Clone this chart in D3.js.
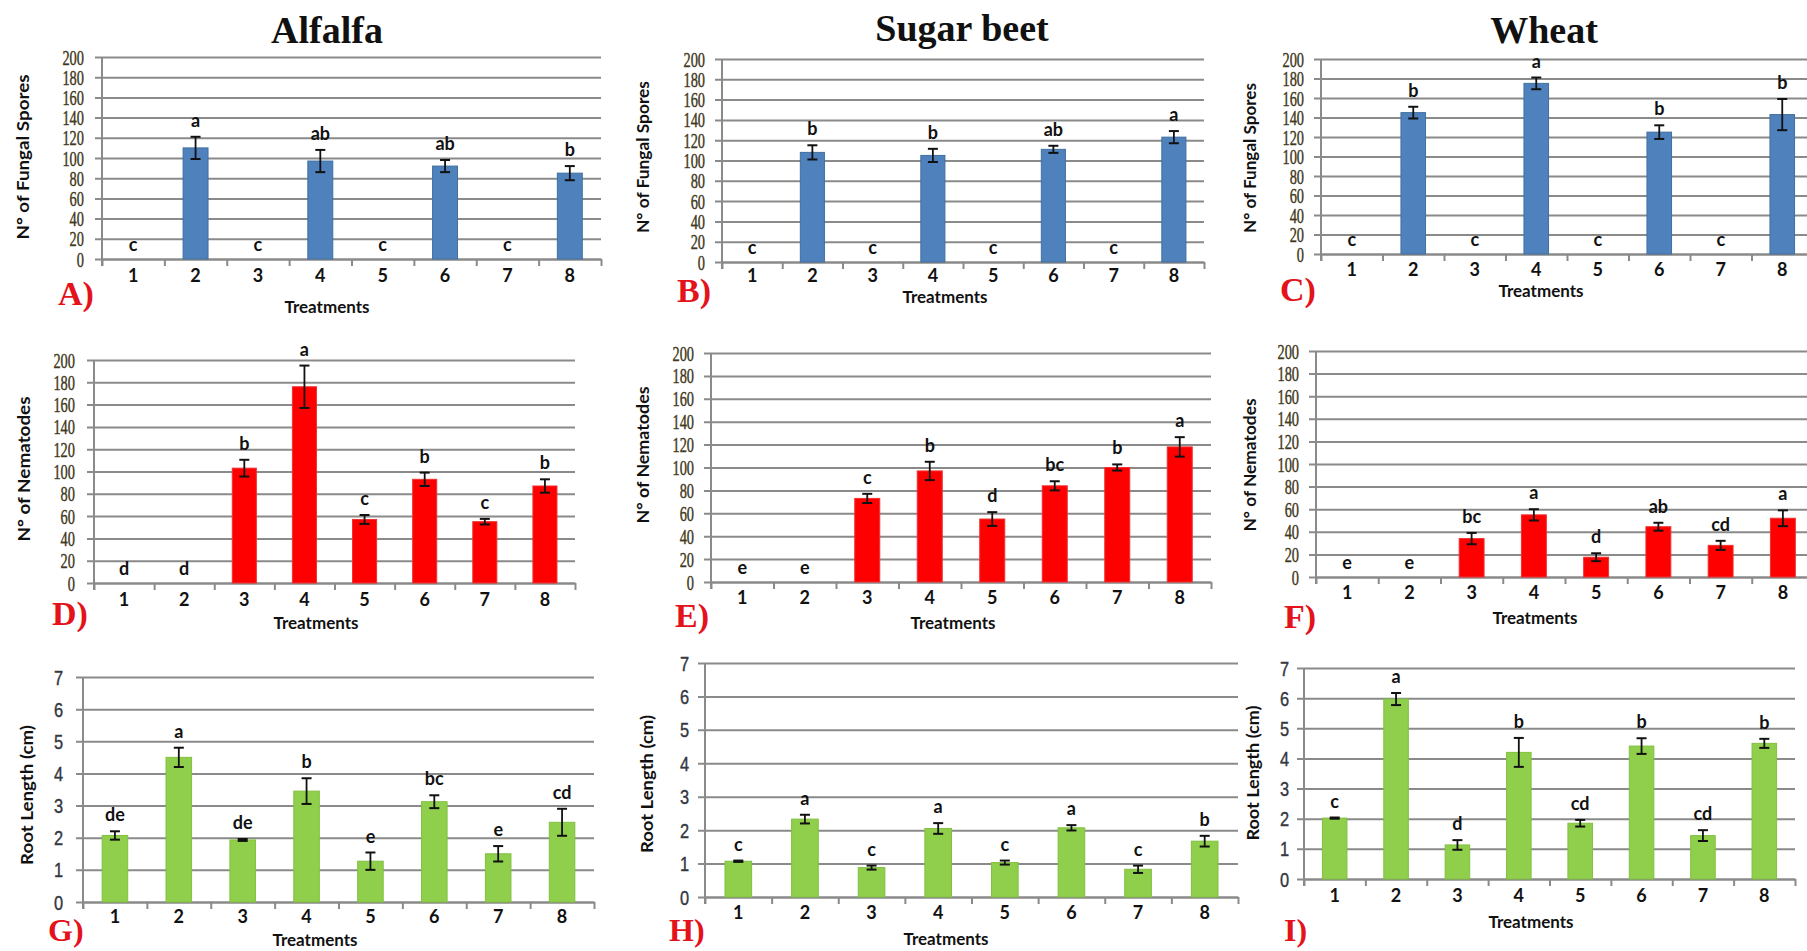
<!DOCTYPE html>
<html>
<head>
<meta charset="utf-8">
<script src="https://cdn.jsdelivr.net/npm/d3@7"></script>
<style>
  html, body { margin: 0; padding: 0; background: #fff; }
  svg { display: block; }
</style>
</head>
<body>
<svg id="chart" width="1807" height="951"></svg>
<script>
// ---------------- DATA ----------------
const treatments = ["1", "2", "3", "4", "5", "6", "7", "8"];
const crops = ["Alfalfa", "Sugar beet", "Wheat"];
const countTicks = [0, 20, 40, 60, 80, 100, 120, 140, 160, 180, 200];
const rootTicks = [0, 1, 2, 3, 4, 5, 6, 7];

const sporesAlfalfa = [0, 110, 0, 97, 0, 92, 0, 85];
const sporesAlfalfaErr = [0, 11, 0, 11, 0, 6, 0, 7];
const sporesAlfalfaLetters = ["c", "a", "c", "ab", "c", "ab", "c", "b"];

const sporesSugarbeet = [0, 108, 0, 105, 0, 111, 0, 123];
const sporesSugarbeetErr = [0, 7, 0, 6.5, 0, 3.5, 0, 6];
const sporesSugarbeetLetters = ["c", "b", "c", "b", "c", "ab", "c", "a"];

const sporesWheat = [0, 145, 0, 175, 0, 125, 0, 143];
const sporesWheatErr = [0, 6, 0, 6, 0, 7, 0, 16];
const sporesWheatLetters = ["c", "b", "c", "a", "c", "b", "c", "b"];

const nemAlfalfa = [0, 0, 103, 176, 57, 93, 55, 87];
const nemAlfalfaErr = [0, 0, 7.5, 19, 4, 6, 2.5, 6];
const nemAlfalfaLetters = ["d", "d", "b", "a", "c", "b", "c", "b"];

const nemSugarbeet = [0, 0, 73, 97, 55, 84, 100, 118];
const nemSugarbeetErr = [0, 0, 4, 8, 6, 4, 2.7, 8.5];
const nemSugarbeetLetters = ["e", "e", "c", "b", "d", "bc", "b", "a"];

const nemWheat = [0, 0, 34, 55, 17.5, 44.5, 28, 52];
const nemWheatErr = [0, 0, 5, 5, 3.5, 3.5, 4, 7];
const nemWheatLetters = ["e", "e", "bc", "a", "d", "ab", "cd", "a"];

const rootAlfalfa = [2.07, 4.5, 1.93, 3.45, 1.27, 3.12, 1.5, 2.48];
const rootAlfalfaErr = [0.13, 0.3, 0.03, 0.4, 0.27, 0.2, 0.24, 0.42];
const rootAlfalfaLetters = ["de", "a", "de", "b", "e", "bc", "e", "cd"];

const rootSugarbeet = [1.07, 2.33, 0.88, 2.05, 1.03, 2.07, 0.83, 1.67];
const rootSugarbeetErr = [0.02, 0.13, 0.06, 0.16, 0.06, 0.08, 0.11, 0.16];
const rootSugarbeetLetters = ["c", "a", "c", "a", "c", "a", "c", "b"];

const rootWheat = [2.02, 5.97, 1.13, 4.2, 1.85, 4.41, 1.44, 4.5];
const rootWheatErr = [0.02, 0.2, 0.16, 0.48, 0.11, 0.26, 0.18, 0.15];
const rootWheatLetters = ["c", "a", "d", "b", "cd", "b", "cd", "b"];

const panelLabels = ["A)", "B)", "C)", "D)", "E)", "F)", "G)", "H)", "I)"];
const yTitles = ["N° of Fungal Spores", "N° of Nematodes", "Root Length (cm)"];
const xTitle = "Treatments";

// ---------------- LAYOUT / STYLE ----------------
const COLORS = ["#4f81bd", "#ff0000", "#8fcf4c"];
const STROKES = ["#40709f", "#f03030", "#82c040"];

const panels = [
  { v: sporesAlfalfa, e: sporesAlfalfaErr, l: sporesAlfalfaLetters, row: 0,
    L: 102, R: 601, T: 57, B: 259, tickR: 84, xlab: 282, trX: 327, trY: 313, ytX: 22, ytY: 157, ytLen: 165, pX: 58, pY: 305 },
  { v: sporesSugarbeet, e: sporesSugarbeetErr, l: sporesSugarbeetLetters, row: 0,
    L: 722, R: 1204, T: 59, B: 262, tickR: 705, xlab: 282, trX: 945, trY: 303, ytX: 642, ytY: 157, ytLen: 152, pX: 677, pY: 302 },
  { v: sporesWheat, e: sporesWheatErr, l: sporesWheatLetters, row: 0,
    L: 1321, R: 1813, T: 59, B: 254, tickR: 1304, xlab: 276, trX: 1541, trY: 297, ytX: 1249, ytY: 158, ytLen: 150, pX: 1280, pY: 301 },
  { v: nemAlfalfa, e: nemAlfalfaErr, l: nemAlfalfaLetters, row: 1,
    L: 94, R: 575, T: 360, B: 583, tickR: 75, xlab: 606, trX: 316, trY: 629, ytX: 23, ytY: 469, ytLen: 145, pX: 52, pY: 625 },
  { v: nemSugarbeet, e: nemSugarbeetErr, l: nemSugarbeetLetters, row: 1,
    L: 711, R: 1211, T: 353, B: 582, tickR: 694, xlab: 604, trX: 953, trY: 629, ytX: 642, ytY: 455, ytLen: 137, pX: 675, pY: 627 },
  { v: nemWheat, e: nemWheatErr, l: nemWheatLetters, row: 1,
    L: 1316, R: 1814, T: 351, B: 577, tickR: 1299, xlab: 599, trX: 1535, trY: 624, ytX: 1249, ytY: 465, ytLen: 133, pX: 1284, pY: 628 },
  { v: rootAlfalfa, e: rootAlfalfaErr, l: rootAlfalfaLetters, row: 2,
    L: 83, R: 594, T: 677, B: 902, tickR: 63, xlab: 923, trX: 315, trY: 946, ytX: 26, ytY: 795, ytLen: 140, pX: 48, pY: 941 },
  { v: rootSugarbeet, e: rootSugarbeetErr, l: rootSugarbeetLetters, row: 2,
    L: 705, R: 1238, T: 663, B: 897, tickR: 689, xlab: 919, trX: 946, trY: 945, ytX: 646, ytY: 784, ytLen: 138, pX: 669, pY: 941 },
  { v: rootWheat, e: rootWheatErr, l: rootWheatLetters, row: 2,
    L: 1304, R: 1795, T: 668, B: 879, tickR: 1289, xlab: 902, trX: 1531, trY: 928, ytX: 1252, ytY: 773, ytLen: 135, pX: 1284, pY: 941 }
];
const titlePos = [{ x: 327, y: 43 }, { x: 962, y: 41 }, { x: 1544, y: 43 }];

const svg = d3.select("#chart");
const GRID = "#8a8a8a";

// Crop titles
svg.selectAll("text.crop").data(crops).join("text")
  .attr("class", "crop")
  .attr("x", (d, i) => titlePos[i].x)
  .attr("y", (d, i) => titlePos[i].y)
  .attr("text-anchor", "middle")
  .attr("font-family", "'Liberation Serif', 'Times New Roman', serif")
  .attr("font-weight", "bold")
  .attr("font-size", 38)
  .attr("fill", "#111")
  .text(d => d);

panels.forEach((p, pi) => {
  const isRoot = p.row === 2;
  const ticks = isRoot ? rootTicks : countTicks;
  const yMax = isRoot ? 7 : 200;

  const x = d3.scaleBand().domain(treatments).range([p.L, p.R]).paddingInner(0).paddingOuter(0);
  const xEdge = d3.scaleLinear().domain([0, treatments.length]).range([p.L, p.R]);
  const y = d3.scaleLinear().domain([0, yMax]).range([p.B, p.T]);
  const g = svg.append("g");

  // Y grid + labels
  const sx = isRoot ? 0.82 : 0.72;
  const yAxis = g.append("g")
    .attr("transform", `translate(${p.L},0)`)
    .call(d3.axisLeft(y).tickValues(ticks).tickSize(-(p.R - p.L)).tickSizeOuter(0).tickFormat(d3.format("d")));
  yAxis.select(".domain").remove();
  yAxis.selectAll(".tick line")
    .attr("x1", -7)
    .attr("stroke", GRID).attr("stroke-width", 2);
  const tickColor = isRoot ? "#33373f" : "#3f3820";
  yAxis.selectAll(".tick text")
    .attr("x", (p.tickR - p.L) / sx)
    .attr("dy", "0.35em")
    .attr("transform", `scale(${sx},1)`)
    .attr("text-anchor", "end")
    .attr("font-family", isRoot ? "'Liberation Sans', Arial, sans-serif" : "'Liberation Serif', 'Times New Roman', serif")
    .attr("font-size", 20)
    .attr("fill", tickColor)
    .attr("stroke", tickColor)
    .attr("stroke-width", 0.4);

  // Y axis line
  g.append("line")
    .attr("x1", p.L).attr("x2", p.L)
    .attr("y1", y(yMax)).attr("y2", p.B + 7)
    .attr("stroke", GRID).attr("stroke-width", 2);

  // X axis edges (tick marks at band boundaries)
  const xEdgeAxis = g.append("g")
    .attr("transform", `translate(0,${p.B})`)
    .call(d3.axisBottom(xEdge).tickValues(d3.range(treatments.length + 1)).tickSize(7).tickSizeOuter(0).tickFormat(""));
  xEdgeAxis.select(".domain").attr("stroke", GRID).attr("stroke-width", 2);
  xEdgeAxis.selectAll(".tick line").attr("stroke", GRID).attr("stroke-width", 2);

  // X labels
  const xAxis = g.append("g")
    .attr("transform", `translate(0,${p.B})`)
    .call(d3.axisBottom(x).tickSize(0));
  xAxis.select(".domain").remove();
  xAxis.selectAll(".tick text")
    .attr("y", p.xlab - p.B)
    .attr("dy", 0)
    .attr("font-family", "Lato, 'Open Sans', sans-serif")
    .attr("font-weight", "bold")
    .attr("font-size", 18)
    .attr("fill", "#111");

  const bw = x.bandwidth() * 0.4;
  const rows = treatments.map((t, i) => ({ t, v: p.v[i], e: p.e[i], l: p.l[i] }));

  // Bars
  g.selectAll("rect.bar").data(rows.filter(d => d.v > 0)).join("rect")
    .attr("class", "bar")
    .attr("x", d => x(d.t) + (x.bandwidth() - bw) / 2)
    .attr("width", bw)
    .attr("y", d => y(d.v))
    .attr("height", d => p.B - y(d.v))
    .attr("fill", COLORS[p.row])
    .attr("stroke", STROKES[p.row])
    .attr("stroke-width", 1);

  // Error bars
  const eb = g.selectAll("g.err").data(rows.filter(d => d.v > 0)).join("g").attr("class", "err");
  const cx = d => x(d.t) + x.bandwidth() / 2;
  eb.append("line")
    .attr("x1", cx).attr("x2", cx)
    .attr("y1", d => y(d.v + d.e)).attr("y2", d => y(d.v - d.e))
    .attr("stroke", "#111").attr("stroke-width", 1.8);
  eb.append("line")
    .attr("x1", d => cx(d) - 5).attr("x2", d => cx(d) + 5)
    .attr("y1", d => y(d.v + d.e)).attr("y2", d => y(d.v + d.e))
    .attr("stroke", "#111").attr("stroke-width", 2);
  eb.append("line")
    .attr("x1", d => cx(d) - 5).attr("x2", d => cx(d) + 5)
    .attr("y1", d => y(d.v - d.e)).attr("y2", d => y(d.v - d.e))
    .attr("stroke", "#111").attr("stroke-width", 2);

  // Significance letters
  g.selectAll("text.sig").data(rows).join("text")
    .attr("class", "sig")
    .attr("x", cx)
    .attr("y", d => d.v > 0 ? y(d.v + d.e) - 10 : p.B - 8)
    .attr("text-anchor", "middle")
    .attr("font-family", "Lato, 'Open Sans', sans-serif")
    .attr("font-weight", "bold")
    .attr("font-size", 18)
    .attr("fill", "#111")
    .text(d => d.l);

  // Axis titles
  g.append("text")
    .attr("transform", `translate(${p.ytX},${p.ytY}) rotate(-90)`)
    .attr("text-anchor", "middle")
    .attr("dominant-baseline", "central")
    .attr("font-family", "Lato, 'Open Sans', sans-serif")
    .attr("font-weight", "bold")
    .attr("font-size", 17)
    .attr("textLength", p.ytLen)
    .attr("lengthAdjust", "spacingAndGlyphs")
    .attr("fill", "#111")
    .text(yTitles[p.row]);

  g.append("text")
    .attr("x", p.trX).attr("y", p.trY)
    .attr("text-anchor", "middle")
    .attr("font-family", "Lato, 'Open Sans', sans-serif")
    .attr("font-weight", "bold")
    .attr("font-size", 17)
    .attr("fill", "#111")
    .text(xTitle);

  // Panel label
  g.append("text")
    .attr("x", p.pX).attr("y", p.pY)
    .attr("font-family", "'Liberation Serif', 'Times New Roman', serif")
    .attr("font-weight", "bold")
    .attr("font-size", p.row === 2 ? 32 : 34)
    .attr("fill", "#e3121b")
    .text(panelLabels[pi]);
});
</script>
</body>
</html>
